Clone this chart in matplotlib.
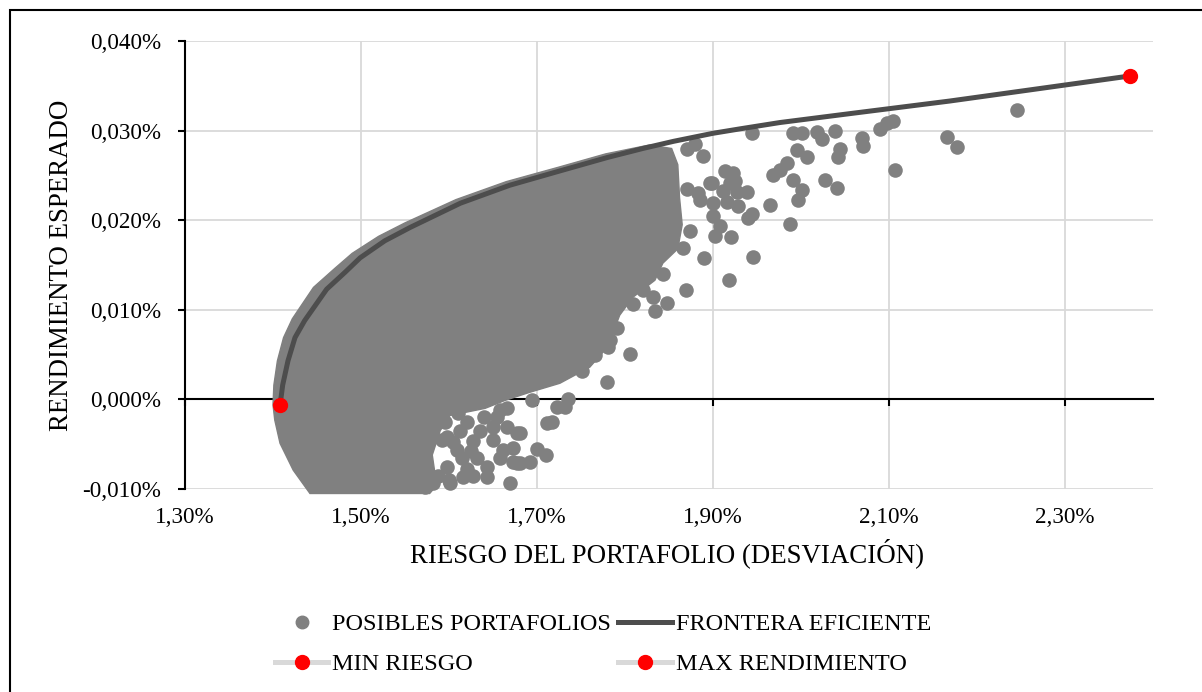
import numpy as np
import matplotlib.pyplot as plt
from matplotlib.patches import Polygon, Rectangle
from matplotlib.lines import Line2D
from matplotlib.ticker import FuncFormatter

plt.rcParams['font.family'] = ['Liberation Serif', 'DejaVu Serif']

# frontera eficiente (riesgo %, rendimiento %)
front_x = [1.408, 1.409, 1.411, 1.417, 1.425, 1.436, 1.461, 1.482, 1.499, 1.527, 1.556,
           1.613, 1.669, 1.726, 1.780, 1.820, 1.855, 1.900, 1.931, 1.976, 2.056, 2.169,
           2.257, 2.374]
front_y = [-0.0006, 0.0001, 0.0016, 0.0043, 0.0069, 0.0088, 0.0123, 0.0142, 0.0158, 0.0177, 0.0192,
           0.0219, 0.0239, 0.0255, 0.0270, 0.0280, 0.0288, 0.0297, 0.0302, 0.0309, 0.0319, 0.0333,
           0.0345, 0.0361]

# contorno de la zona densa de portafolios simulados
cloud_x = [1.442, 1.423, 1.408, 1.402, 1.400, 1.401, 1.405, 1.412, 1.422, 1.446, 1.470, 1.490,
           1.520, 1.550, 1.608, 1.665, 1.724, 1.778, 1.828, 1.853, 1.860, 1.862, 1.865, 1.860,
           1.843, 1.834, 1.809, 1.794, 1.785, 1.777, 1.760, 1.726, 1.692, 1.664, 1.641, 1.601,
           1.590, 1.581, 1.586, 1.578]
cloud_y = [-0.0105, -0.0079, -0.0049, -0.0023, -0.0006, 0.0016, 0.0043, 0.0069, 0.0090, 0.0125,
           0.0146, 0.0163, 0.0182, 0.0197, 0.0223, 0.0243, 0.0259, 0.0274, 0.0284, 0.0280, 0.0262,
           0.0225, 0.0195, 0.0168, 0.0152, 0.0133, 0.0114, 0.0094, 0.0071, 0.0055, 0.0036, 0.0018,
           0.0008, -0.0001, -0.0010, -0.0018, -0.0035, -0.0062, -0.0096, -0.0105]

# portafolios dispersos fuera de la zona densa
port_x = [1.944, 1.991, 2.001, 2.018, 2.024, 2.039, 2.069, 2.070, 2.090, 2.098, 2.105, 2.166,
          2.177, 2.245, 2.107, 1.995, 2.007, 2.044, 2.042, 1.984, 1.976, 1.968, 1.991, 2.001,
          1.997, 2.027, 2.041, 1.965, 1.988, 1.940, 1.944, 1.945, 1.918, 1.890, 1.869, 1.902,
          1.920, 1.900, 1.908, 1.939, 1.927, 1.923, 1.914, 1.925, 1.919, 1.889, 1.870, 1.880,
          1.885, 1.900, 1.916, 1.928, 1.897, 1.911, 1.899, 1.883, 1.870, 1.874, 1.866, 1.843,
          1.832, 1.848, 1.834, 1.809, 1.820, 1.806, 1.780, 1.791, 1.781, 1.735, 1.732, 1.717,
          1.710, 1.783, 1.751, 1.766, 1.723, 1.700, 1.692, 1.681, 1.673, 1.669, 1.643, 1.627,
          1.616, 1.601, 1.658, 1.673, 1.681, 1.666, 1.658, 1.666, 1.694, 1.650, 1.635, 1.627,
          1.613, 1.609, 1.598, 1.632, 1.582, 1.573, 1.661, 1.677, 1.677, 1.711,
          1.595, 1.605, 1.620, 1.615, 1.598, 1.625, 1.640, 1.650, 1.643, 1.600, 1.620, 1.655,
          1.592, 1.610, 1.588]
port_y = [0.0297, 0.0297, 0.0297, 0.0298, 0.0291, 0.0300, 0.0292, 0.0283, 0.0302, 0.0308, 0.0311,
          0.0293, 0.0282, 0.0323, 0.0256, 0.0278, 0.0270, 0.0280, 0.0270, 0.0264, 0.0256, 0.0250,
          0.0245, 0.0234, 0.0223, 0.0245, 0.0236, 0.0217, 0.0196, 0.0203, 0.0207, 0.0159, 0.0133,
          0.0158, 0.0122, 0.0182, 0.0181, 0.0205, 0.0194, 0.0231, 0.0231, 0.0253, 0.0255, 0.0244,
          0.0241, 0.0272, 0.0280, 0.0285, 0.0222, 0.0219, 0.0220, 0.0216, 0.0241, 0.0233, 0.0242,
          0.0230, 0.0235, 0.0188, 0.0169, 0.0140, 0.0114, 0.0108, 0.0099, 0.0107, 0.0122, 0.0051,
          0.0019, 0.0080, 0.0058, 0.0001, -0.0009, -0.0025, -0.0062, 0.0066, 0.0032, 0.0049,
          -0.0009, -0.0055, -0.0070, -0.0071, -0.0070, -0.0093, -0.0087, -0.0085, -0.0087, -0.0093,
          -0.0065, -0.0054, -0.0038, -0.0031, -0.0012, -0.0010, -0.0001, -0.0031, -0.0035, -0.0046,
          -0.0035, -0.0057, -0.0042, -0.0065, -0.0093, -0.0098, -0.0057, -0.0037, -0.0071, -0.0026,
          -0.0025, -0.0048, -0.0025, -0.0065, -0.0075, -0.0058, -0.0020, -0.0045, -0.0075, -0.0090,
          -0.0078, -0.0020, -0.0045, -0.0015, -0.0085]

min_x, min_y = [1.408], [-0.0006]
max_x, max_y = [2.374], [0.0361]

x_ticks = [1.30, 1.50, 1.70, 1.90, 2.10, 2.30]
y_ticks = [-0.010, 0.000, 0.010, 0.020, 0.030, 0.040]

gray = '#808080'
dark = '#4d4d4d'
grid_c = '#d9d9d9'

fig = plt.figure(figsize=(12.02, 6.92), dpi=100)
ax = fig.add_axes([185/1202, 1-489/692, (1153-185)/1202, (489-41)/692])
ax.set_xlim(1.30, 2.40)
ax.set_ylim(-0.010, 0.040)

for yv in y_ticks:
    if yv != 0:
        ax.axhline(yv, color=grid_c, lw=1.3, zorder=0)
for xv in x_ticks[1:]:
    ax.axvline(xv, color=grid_c, lw=1.3, zorder=0)

# eje horizontal en 0
for s in ['top', 'right']:
    ax.spines[s].set_visible(False)
ax.spines['bottom'].set_position(('data', 0))
ax.spines['bottom'].set_linewidth(1.5)
ax.spines['bottom'].set_zorder(1)
ax.spines['left'].set_linewidth(1.5)
ax.set_xticks(x_ticks)
ax.tick_params(axis='x', direction='out', length=5, width=1.5, labelbottom=False)
ax.set_yticks(y_ticks)
ax.tick_params(axis='y', direction='out', length=5, width=1.5, pad=12, labelsize=16.7)
ax.yaxis.set_major_formatter(FuncFormatter(lambda v, p: f'{v:.3f}%'.replace('.', ',')))

sec = ax.secondary_xaxis('bottom')
sec.set_xticks(x_ticks)
sec.tick_params(length=0, pad=13, labelsize=16.7)
sec.spines['bottom'].set_visible(False)
sec.xaxis.set_major_formatter(FuncFormatter(lambda v, p: f'{v:.2f}%'.replace('.', ',')))

cloud = Polygon(np.column_stack([cloud_x, cloud_y]), closed=True, facecolor=gray,
                edgecolor=gray, lw=1.0, zorder=2)
ax.add_patch(cloud)
cloud.set_clip_on(False)
ax.scatter(port_x, port_y, s=110, c=gray, linewidths=0, zorder=2, clip_on=False)
ax.plot(front_x, front_y, color=dark, lw=3.6, zorder=3, solid_capstyle='round')
ax.plot(min_x, min_y, 'o', color='red', ms=10, zorder=4, clip_on=False)
ax.plot(max_x, max_y, 'o', color='red', ms=10, zorder=4, clip_on=False)

fig.text(667/1202, 1-553/692, 'RIESGO DEL PORTAFOLIO (DESVIACIÓN)', ha='center', va='center', fontsize=19.4)
fig.text(62/1202, 1-265/692, 'RENDIMIENTO ESPERADO', ha='center', va='center', rotation=90, fontsize=19.4)

h_pos = Line2D([], [], marker='o', ls='none', color=gray, ms=9)
h_front = Line2D([], [], color=dark, lw=3.6)
h_min = Line2D([], [], color='#d9d9d9', lw=3.6, marker='o', mfc='red', mec='red', ms=10)
h_max = Line2D([], [], color='#d9d9d9', lw=3.6, marker='o', mfc='red', mec='red', ms=10)
fig.legend([h_pos, h_min, h_front, h_max],
           ['POSIBLES PORTAFOLIOS', 'MIN RIESGO', 'FRONTERA EFICIENTE', 'MAX RENDIMIENTO'],
           ncol=2, loc='center', bbox_to_anchor=(603/1202, 1-644/692), frameon=False,
           fontsize=17.5, handlelength=2.2, handletextpad=0.16, columnspacing=0.3,
           labelspacing=0.74, borderpad=0)

fig.patches.append(Rectangle((10/1202, -0.1), 1.2, 1.1-10/692, transform=fig.transFigure,
                             fill=False, ec='black', lw=1.5))

fig.savefig('out.png', dpi=100)
